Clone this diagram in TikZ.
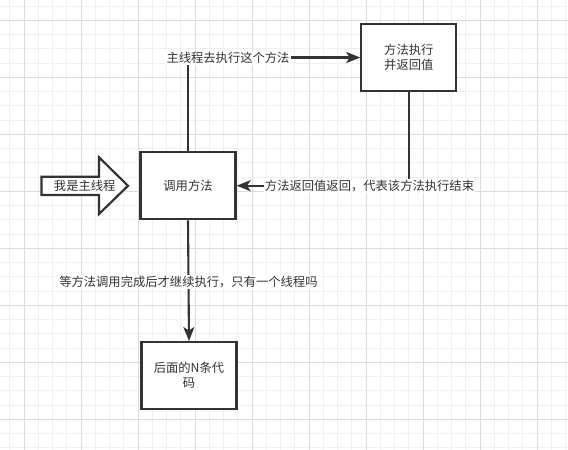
\documentclass[tikz,border=0pt]{standalone}
\usepackage{fontspec}
\setmainfont{Noto Sans CJK SC}
\usetikzlibrary{arrows.meta}
\definecolor{ink}{HTML}{333333}
\definecolor{gridmajor}{HTML}{DCDCDC}
\definecolor{gridminor}{HTML}{F0F0F0}
\tikzset{
  box/.style={draw=ink, line width=2.2pt, fill=white, minimum width=95pt, minimum height=67pt, inner sep=0pt, align=center, text=ink, font=\fontsize{12.3}{15}\selectfont},
  conn/.style={draw=ink, line width=2.1pt, -{Stealth[length=14pt,width=11pt,inset=3.5pt]}},
  lbl/.style={fill=white, inner sep=1pt, text=ink, font=\fontsize{12.3}{15}\selectfont},
  minorgrid/.style={draw=gridminor, line width=0.8pt},
  majorgrid/.style={draw=gridmajor, line width=1pt}
}
\begin{document}
\begin{tikzpicture}[x=1pt,y=-1pt]
\useasboundingbox (0,0) rectangle (568,450);
\fill[white] (0,0) rectangle (568,450);
% grid
\foreach \i in {-1,...,39} {
  \draw[minorgrid] ({24+14.25*\i},0) -- ({24+14.25*\i},450);
}
\foreach \i in {-1,...,31} {
  \draw[minorgrid] (0,{20.3+14.25*\i}) -- (568,{20.3+14.25*\i});
}
\foreach \i in {0,...,9} {
  \draw[majorgrid] ({24+57*\i},0) -- ({24+57*\i},450);
}
\foreach \i in {0,...,7} {
  \draw[majorgrid] (0,{20.3+57*\i}) -- (568,{20.3+57*\i});
}
% boxes
\node[box] (m1) at (188,185.7) {调用方法};
\node[box] (m2) at (408.8,57.5) {方法执行\\并返回值};
\node[box] (m3) at (189,375.6) {后面的N条代\\码};
% big arrow
\draw[draw=ink, line width=2.2pt, fill=white, line join=miter]
  (41.5,176.7) -- (99,176.7) -- (99,157.3) -- (128,185.8) -- (99,214) -- (99,195) -- (41.5,195) -- cycle;
\node[text=ink, font=\fontsize{12.3}{15}\selectfont, inner sep=0pt] (t) at (84.7,185.6) {我是主线程};
% connectors
\draw[conn] (m1.north) |- (m2.west);
\draw[conn] (m2.south) |- (m1.east);
\draw[conn] (m1.south) -- (m3.north);
% labels
\node[lbl] (l1) at (228,58.3) {主线程去执行这个方法};
\node[lbl] (l2) at (369.5,185.7) {方法返回值返回，代表该方法执行结束};
\node[lbl] (l3) at (188.4,281.7) {等方法调用完成后才继续执行，只有一个线程吗};
\end{tikzpicture}
\end{document}
